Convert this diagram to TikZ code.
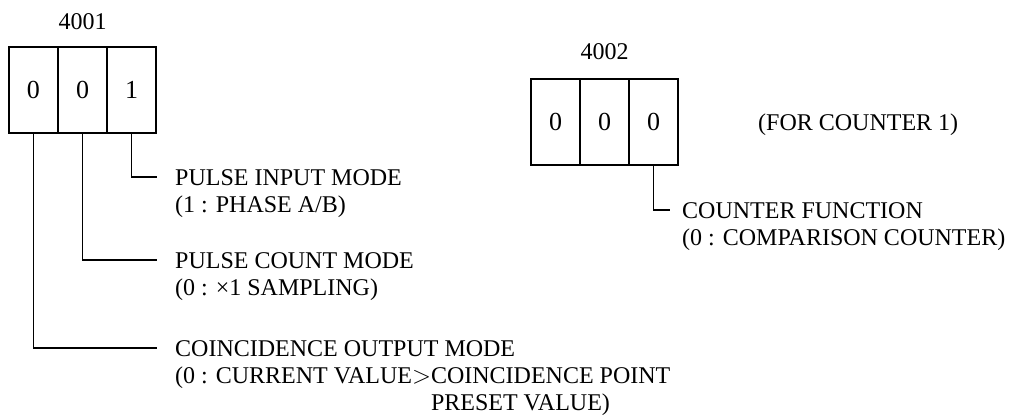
\documentclass[tikz,border=0pt]{standalone}
\usepackage{fontspec}
\setmainfont{Liberation Serif}
\begin{document}
\begin{tikzpicture}[x=1pt,y=-1pt,
  txt/.style={inner sep=0pt,font=\fontsize{24}{28}\selectfont},
  cell/.style={inner sep=0pt,draw,line width=1.7pt,minimum width=49pt,minimum height=86pt,font=\fontsize{26}{30}\selectfont},
  lbl/.style={txt,anchor=west,text height=16pt,text depth=0pt},
  wire/.style={line width=1.7pt}]
\useasboundingbox (0,0) rectangle (1012,420);
% register 4001
\node[txt] (t1) at (82.5,22) {4001};
\node[cell] (a1) at (33.5,90) {0};
\node[cell] (a2) at (82.5,90) {0};
\node[cell] (a3) at (131.5,90) {1};
% register 4002
\node[txt] (t2) at (604.5,52) {4002};
\node[cell] (b1) at (555.5,122) {0};
\node[cell] (b2) at (604.5,122) {0};
\node[cell] (b3) at (653.5,122) {0};
\node[lbl] (for) at (758,122) {(FOR COUNTER 1)};
% labels
\node[lbl] (pim) at (175,177) {PULSE INPUT MODE};
\node[lbl] (pim2) at (175,204) {(1 : PHASE A/B)};
\node[lbl] (pcm) at (175,260) {PULSE COUNT MODE};
\node[lbl] (pcm2) at (175,287) {(0 : ×1 SAMPLING)};
\node[lbl] (com) at (175,348) {COINCIDENCE OUTPUT MODE};
\node[lbl] (com2) at (175,375) {(0 : CURRENT VALUE{$>$}COINCIDENCE POINT};
\node[lbl] (com3) at (175,402) {\phantom{(0 : CURRENT VALUE{$>$}}PRESET VALUE)};
\node[lbl] (cf) at (682,210) {COUNTER FUNCTION};
\node[lbl] (cf2) at (682,237) {(0 : COMPARISON COUNTER)};
% connector ends
\coordinate (e1) at (157,177);
\coordinate (e2) at (157,260);
\coordinate (e3) at (157,348);
\coordinate (e4) at (670,210);
\draw[wire] (a3.south) |- (e1);
\draw[wire] (a2.south) |- (e2);
\draw[wire] (a1.south) |- (e3);
\draw[wire] (b3.south) |- (e4);
\end{tikzpicture}
\end{document}
